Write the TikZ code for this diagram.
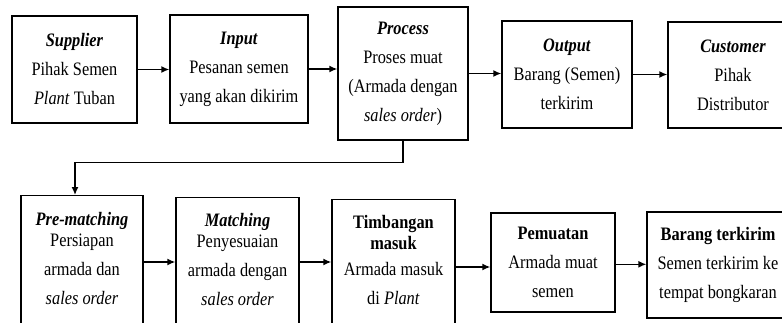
\documentclass[tikz,border=0pt]{standalone}
\usepackage{fontspec}
\setmainfont{Liberation Serif}[FakeStretch=0.86]
\usetikzlibrary{calc,arrows.meta}

\begin{document}
\begin{tikzpicture}[x=1pt,y=-1pt,line width=1.4pt,
  box/.style={draw,rectangle,inner sep=0pt,align=center,font=\fontsize{19}{29}\selectfont},
  txt/.style={inner sep=0pt,align=center,anchor=north,font=\fontsize{19}{29}\selectfont},
  arr/.style={-{Latex[length=8pt,width=7pt]}}]
\useasboundingbox (0,0) rectangle (782,322);
\clip (0,0) rectangle (782,322);
% top row
\node[box,minimum width=125pt,minimum height=107pt] (sup) at (74.5,69.5) {\textbf{\textit{Supplier}}\\Pihak Semen\\\textit{Plant} Tuban};
\node[box,minimum width=138pt,minimum height=108pt] (inp) at (239,69) {\textbf{\textit{Input}}\\Pesanan semen\\yang akan dikirim};
\node[box,minimum width=130pt,minimum height=133pt] (proc) at (403,73.5) {\textbf{\textit{Process}}\\Proses muat\\(Armada dengan\\\textit{sales order})};
\node[box,minimum width=130pt,minimum height=107pt] (outp) at (567,74.5) {\textbf{\textit{Output}}\\Barang (Semen)\\terkirim};
\node[box,minimum width=130pt,minimum height=106pt] (cust) at (733,75) {\textbf{\textit{Customer}}\\Pihak\\Distributor};
\draw[arr] (sup.east) -- (sup.east -| inp.west);
\draw[arr] (inp.east) -- (inp.east -| proc.west);
\draw[arr] (proc.east) -- (proc.east -| outp.west);
\draw[arr] (outp.east) -- (outp.east -| cust.west);
% bottom row
\node[box,anchor=north,minimum width=122pt,minimum height=150pt] (prem) at (82,195) {};
\node[txt] (premtxt) at ([yshift=-17pt]prem.north) {\textbf{\textit{Pre-matching}}\\[-8pt]Persiapan\\armada dan\\\textit{sales order}};
\node[box,anchor=north,minimum width=123pt,minimum height=150pt] (mat) at (237.5,197) {};
\node[txt] (mattxt) at ([yshift=-16pt]mat.north) {\textbf{\textit{Matching}}\\[-8pt]Penyesuaian\\armada dengan\\\textit{sales order}};
\node[box,anchor=north,minimum width=123pt,minimum height=150pt] (tim) at (393.5,199) {};
\node[txt] (timtxt) at ([yshift=-16pt]tim.north) {\textbf{Timbangan}\\[-8pt]\textbf{masuk}\\[-3pt]Armada masuk\\di \textit{Plant}};
\node[box,minimum width=124pt,minimum height=99pt] (pem) at (553,262.5) {\textbf{Pemuatan}\\Armada muat\\semen};
\node[box,minimum width=142pt,minimum height=106pt] (bar) at (718,265) {\textbf{Barang terkirim}\\Semen terkirim ke\\tempat bongkaran};
\coordinate (a1) at ($(prem.north east)+(0,67)$);
\coordinate (a2) at ($(mat.north east)+(0,65)$);
\coordinate (a3) at ($(tim.north east)+(0,68)$);
\coordinate (a4) at ($(pem.north east)+(0,52)$);
\draw[arr] (a1) -- (a1 -| mat.west);
\draw[arr] (a2) -- (a2 -| tim.west);
\draw[arr] (a3) -- (a3 -| pem.west);
\draw[arr] (a4) -- (a4 -| bar.west);
% feedback from process down to pre-matching
\draw[arr] (proc.south) -- ++(0,22) -| ([xshift=-7pt]prem.north);
\end{tikzpicture}
\end{document}
